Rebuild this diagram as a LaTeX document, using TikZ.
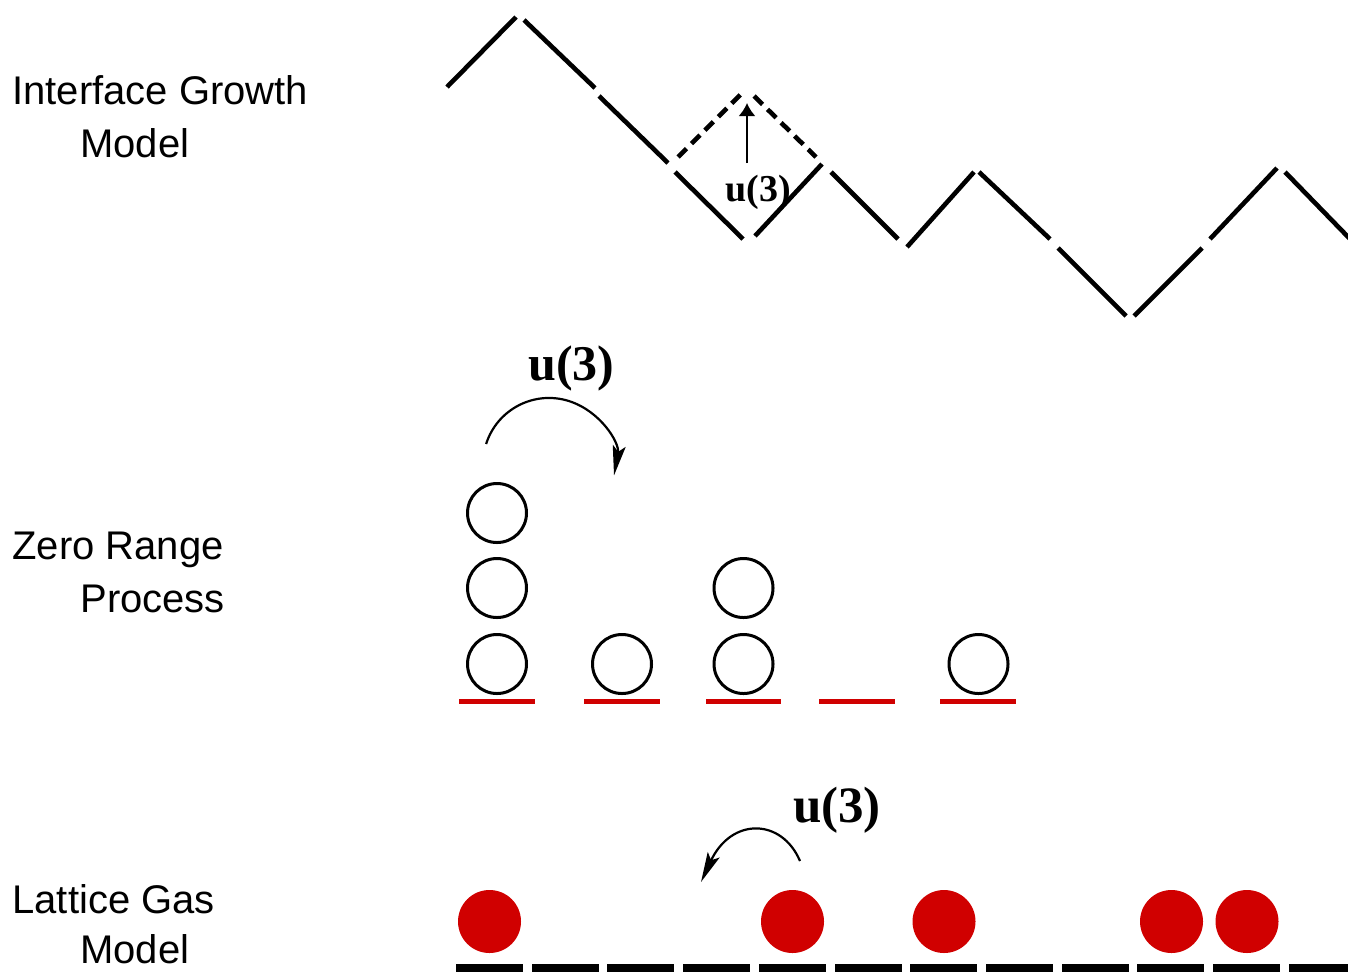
\documentclass[tikz,border=0pt]{standalone}
\usepackage{fontspec}
\usepackage{graphicx}
\newfontfamily\lsans{Liberation Sans}
\newfontfamily\lserif{Liberation Serif}
\usetikzlibrary{arrows.meta}
\definecolor{zred}{RGB}{208,0,0}
\begin{document}
\begin{tikzpicture}[x=0.5pt,y=-0.5pt,
  lbl/.style={anchor=base west,inner sep=0pt,font=\lsans\fontsize{20pt}{22pt}\selectfont},
  ulab/.style={anchor=base,inner sep=0pt,font=\lserif\bfseries\fontsize{#1}{#1}\selectfont},
  iface/.style={line width=2.3pt,line cap=butt},
  dashedface/.style={line width=2.3pt,line cap=butt,dash pattern=on 6pt off 3.5pt},
  zc/.style={circle,draw,line width=1.5pt,minimum size=29.5pt,inner sep=0pt},
  site/.style={zred,line width=2.5pt},
  dot/.style={circle,fill=zred,minimum size=31.5pt,inner sep=0pt},
  lat/.style={line width=4pt},
  hop/.style={line width=1.1pt,-{Stealth[length=15pt,width=6.5pt,inset=3pt]}}]
\useasboundingbox (0,0) rectangle (1348,971);
\clip (0,0) rectangle (1348,971);

% left labels
\node[lbl] (l1a) at (12,104) {Interface Growth};
\node[lbl] (l1b) at (80,157) {Model};
\node[lbl] (l2a) at (12,559) {Zero Range};
\node[lbl] (l2b) at (80,612) {Process};
\node[lbl] (l3a) at (12,913) {Lattice Gas};
\node[lbl] (l3b) at (80,963) {Model};

% interface
\draw[iface] (447,87) -- (516,17);
\draw[iface] (524,20) -- (595,88);
\draw[iface] (599,96) -- (668,163);
\draw[iface] (675,172) -- (743,239);
\draw[iface] (755,236) -- (822,164);
\draw[iface] (831,172) -- (898,239);
\draw[iface] (907,247) -- (974,172);
\draw[iface] (979,172) -- (1050,239);
\draw[iface] (1058,248) -- (1126,316);
\draw[iface] (1134,316) -- (1202,248);
\draw[iface] (1210,239) -- (1277,168);
\draw[iface] (1285,172) -- (1352,241);
\draw[dashedface] (678,157) -- (742,93);
\draw[dashedface] (754,96) -- (816,157);
\coordinate (ub) at (747,163);
\coordinate (ut) at (747,103);
\draw[line width=1.1pt,-{Latex[length=6.5pt,width=8.5pt]}] (ub) -- (ut);
\node[ulab=19pt] (u1) at (758,201) {u(3)};

% zero range process
\node[zc] (c11) at (497,664) {};
\node[zc] (c12) at (497,588) {};
\node[zc] (c13) at (497,513) {};
\node[zc] (c21) at (622,664) {};
\node[zc] (c31) at (743.5,664) {};
\node[zc] (c32) at (743.5,588) {};
\node[zc] (c51) at (978.5,664) {};
\draw[site] (459,701.5) -- (535,701.5);
\draw[site] (584,701.5) -- (660,701.5);
\draw[site] (706,701.5) -- (781,701.5);
\draw[site] (819,701.5) -- (895,701.5);
\draw[site] (940,701.5) -- (1016,701.5);
\coordinate (za) at (486.1,444);
\draw[hop] (za) arc[start angle=-162.4,end angle=10,radius=66];
\node[ulab=25pt] (u2) at (571.5,380) {u(3)};

% lattice gas
\node[dot] (d1) at (489.5,921.5) {};
\node[dot] (d2) at (792.5,921.5) {};
\node[dot] (d3) at (944,921.5) {};
\node[dot] (d4) at (1171.5,921.5) {};
\node[dot] (d5) at (1247,921.5) {};
\foreach \x in {456,532,607,683,759,835,910,986,1062,1137,1213,1289}
  \draw[lat] (\x,968) -- ++(67,0);
\coordinate (ga) at (800,861);
\coordinate (gb) at (701,882);
\draw[hop] (ga) .. controls (781.7,818) and (731.3,817) .. (gb);
\node[ulab=25.5pt] (u3) at (837,822) {u(3)};
\end{tikzpicture}
\end{document}
